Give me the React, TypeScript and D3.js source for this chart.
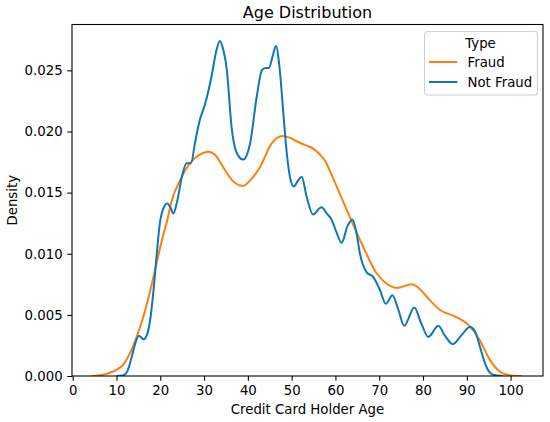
import * as d3 from 'd3';
import React, { useEffect, useRef } from 'react';

// KDE curves: age -> density
const fraudAge = [4.3, 7, 8.5, 10, 11.6, 13, 14.6, 16.1, 17.6, 19.2, 20.5, 21.5, 22.5, 24.5, 27, 29, 31, 32.5, 34, 35.2, 37, 38.9, 40.5, 42.8, 45.4, 47.9, 49.5, 51.1, 53, 54.9, 56.5, 57.8, 58.7, 61, 63.3, 66.3, 69.4, 71.5, 74, 77.4, 79, 80.8, 83.9, 87.7, 90.3, 93, 95.3, 97.6, 100, 102.5];
const fraudDensity = [0, 0.0001, 0.00027, 0.0005, 0.00096, 0.0018, 0.0032, 0.0048, 0.0068, 0.0093, 0.0113, 0.0126, 0.0142, 0.016, 0.0175, 0.0181, 0.01835, 0.0181, 0.0173, 0.0166, 0.0158, 0.01554, 0.016, 0.0171, 0.019, 0.01963, 0.0195, 0.0192, 0.0189, 0.0186, 0.0181, 0.0175, 0.0168, 0.0149, 0.013, 0.0106, 0.0084, 0.0076, 0.0072, 0.0075, 0.0072, 0.0065, 0.0054, 0.0048, 0.0042, 0.0029, 0.0013, 0.00035, 0.00005, 0];

const notFraudAge = [10, 11.5, 12.5, 13.5, 14.5, 15.1, 16.2, 17, 17.7, 18.4, 19.2, 19.9, 20.7, 21.6, 22.3, 23, 23.8, 25, 26, 27, 28, 29, 30.2, 31.7, 32.8, 33.6, 34.3, 35.2, 36.3, 37.4, 38.9, 40.5, 42, 43.2, 44, 44.8, 45.7, 46.4, 47.3, 48.1, 48.9, 49.6, 50.5, 51.5, 52.3, 53.4, 54.9, 56.8, 58, 59.1, 60.3, 61.4, 62.8, 63.9, 64.8, 65.6, 67.1, 68.6, 70.2, 71.5, 73, 74.3, 75.7, 78, 79.6, 81.2, 83.5, 85, 86.8, 88.7, 90.7, 91.8, 93, 94, 95, 96, 98.3];
const notFraudDensity = [0, 0.00005, 0.0004, 0.0016, 0.0029, 0.0033, 0.003, 0.0034, 0.0046, 0.0068, 0.01, 0.0125, 0.0137, 0.0141, 0.0138, 0.0133, 0.0142, 0.0164, 0.0174, 0.0174, 0.0192, 0.0209, 0.0222, 0.0245, 0.0266, 0.0274, 0.0268, 0.025, 0.0203, 0.0183, 0.0177, 0.019, 0.0228, 0.025, 0.0252, 0.0252, 0.0262, 0.027, 0.025, 0.0215, 0.0182, 0.0163, 0.0155, 0.016, 0.0163, 0.0147, 0.0132, 0.0138, 0.0133, 0.0128, 0.0117, 0.0109, 0.0123, 0.0128, 0.0117, 0.01, 0.0085, 0.0081, 0.007, 0.0059, 0.0066, 0.0055, 0.0041, 0.0056, 0.0043, 0.0032, 0.0041, 0.0033, 0.0026, 0.0033, 0.004, 0.0037, 0.0024, 0.0012, 0.0004, 0.0001, 0];

const seriesNames = ['Fraud', 'Not Fraud'];
const seriesColors = ['#ff7f0e', '#0f76b8'];
const xTicks = [0, 10, 20, 30, 40, 50, 60, 70, 80, 90, 100];
const yTicks = [0, 0.005, 0.01, 0.015, 0.02, 0.025];

const width = 550;
const height = 422;
const margin = { left: 72, right: 7, top: 24.5, bottom: 46 };
const font = 'DejaVu Sans, sans-serif';
const fs = 13.3;

const App: React.FC = () => {
  const ref = useRef<SVGSVGElement>(null);

  useEffect(() => {
    if (!ref.current) return;
    const svg = d3.select(ref.current);
    svg.selectAll('*').remove();

    const x = d3.scaleLinear().domain([-0.16, 107.4]).range([margin.left, width - margin.right]);
    const y = d3.scaleLinear().domain([0, 0.02875]).range([height - margin.bottom, margin.top]);

    const series = [
      fraudAge.map((a, i) => [a, fraudDensity[i]] as [number, number]),
      notFraudAge.map((a, i) => [a, notFraudDensity[i]] as [number, number]),
    ];

    const line = d3
      .line<[number, number]>()
      .x((d) => x(d[0]))
      .y((d) => y(d[1]))
      .curve(d3.curveMonotoneX);

    svg.append('clipPath').attr('id', 'plot-clip').append('rect')
      .attr('x', margin.left).attr('y', margin.top)
      .attr('width', width - margin.left - margin.right)
      .attr('height', height - margin.top - margin.bottom);

    svg
      .append('g')
      .attr('clip-path', 'url(#plot-clip)')
      .selectAll('path')
      .data(series)
      .join('path')
      .attr('d', (d) => line(d))
      .attr('fill', 'none')
      .attr('stroke', (_, i) => seriesColors[i])
      .attr('stroke-width', 2)
      .attr('stroke-linejoin', 'round');

    const xAxis = svg
      .append('g')
      .attr('transform', `translate(0,${height - margin.bottom})`)
      .call(d3.axisBottom(x).tickValues(xTicks).tickSize(4.7).tickPadding(4.7).tickFormat(d3.format('d')));
    const yAxis = svg
      .append('g')
      .attr('transform', `translate(${margin.left},0)`)
      .call(d3.axisLeft(y).tickValues(yTicks).tickSize(4.7).tickPadding(4.7).tickFormat(d3.format('.3f')));

    [xAxis, yAxis].forEach((g) => {
      g.select('.domain').remove();
      g.selectAll('line').attr('stroke', '#000').attr('stroke-width', 1.07);
      g.selectAll('text').attr('font-family', font).attr('font-size', fs).attr('fill', '#000');
    });

    svg
      .append('rect')
      .attr('x', margin.left)
      .attr('y', margin.top)
      .attr('width', width - margin.left - margin.right)
      .attr('height', height - margin.top - margin.bottom)
      .attr('fill', 'none')
      .attr('stroke', '#000')
      .attr('stroke-width', 1.07);

    svg.append('text')
      .attr('x', (margin.left + width - margin.right) / 2)
      .attr('y', 18)
      .attr('text-anchor', 'middle')
      .attr('font-family', font)
      .attr('font-size', 16)
      .text('Age Distribution');

    svg.append('text')
      .attr('x', (margin.left + width - margin.right) / 2)
      .attr('y', 414)
      .attr('text-anchor', 'middle')
      .attr('font-family', font)
      .attr('font-size', fs)
      .text('Credit Card Holder Age');

    svg.append('text')
      .attr('transform', `translate(16.5,${(margin.top + height - margin.bottom) / 2}) rotate(-90)`)
      .attr('text-anchor', 'middle')
      .attr('font-family', font)
      .attr('font-size', fs)
      .text('Density');

    const legend = svg.append('g').attr('transform', 'translate(424.5,31.5)');
    legend.append('rect')
      .attr('width', 113)
      .attr('height', 63.5)
      .attr('rx', 3)
      .attr('fill', 'white')
      .attr('fill-opacity', 0.8)
      .attr('stroke', '#d0d0d0')
      .attr('stroke-width', 1.07);
    legend.append('text')
      .attr('x', 56)
      .attr('y', 16)
      .attr('text-anchor', 'middle')
      .attr('font-family', font)
      .attr('font-size', fs)
      .text('Type');
    const items = legend
      .selectAll('g.item')
      .data(seriesNames)
      .join('g')
      .attr('class', 'item')
      .attr('transform', (_, i) => `translate(0,${30.5 + i * 20})`);
    items.append('line')
      .attr('x1', 4.5).attr('x2', 32.8)
      .attr('stroke', (_, i) => seriesColors[i])
      .attr('stroke-width', 2);
    items.append('text')
      .attr('x', 43)
      .attr('y', 4.8)
      .attr('font-family', font)
      .attr('font-size', fs)
      .text((d) => d);
  }, []);

  return (
    <svg
      ref={ref}
      width={width}
      height={height}
      viewBox={`0 0 ${width} ${height}`}
      style={{ position: 'absolute', left: 0, top: 0, background: 'white' }}
    />
  );
};

export default App;
